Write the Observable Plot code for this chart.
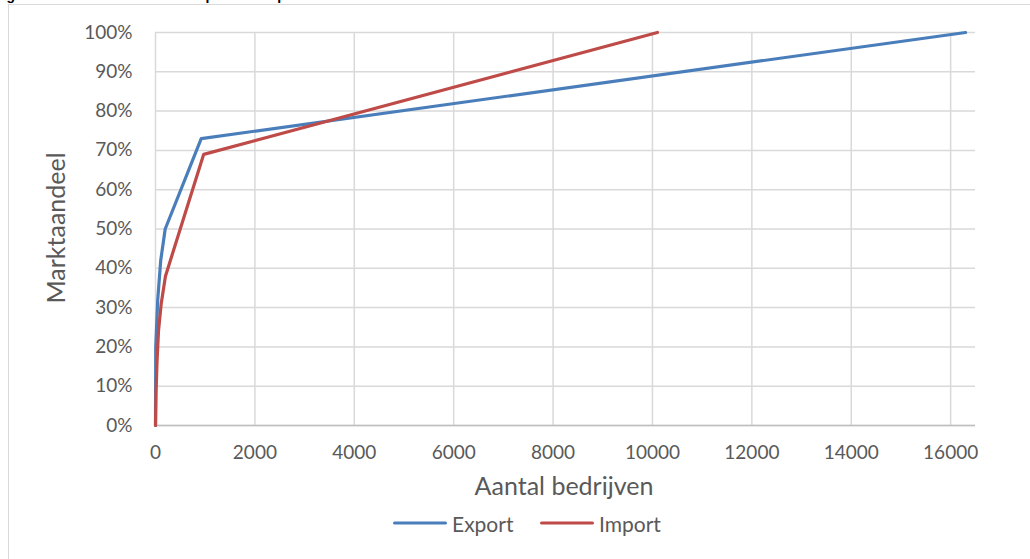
<!DOCTYPE html>
<html>
<head>
<meta charset="utf-8">
<script src="https://cdn.jsdelivr.net/npm/d3@7"></script>
<script src="https://cdn.jsdelivr.net/npm/@observablehq/plot@0.6"></script>
<style>
  html, body { margin: 0; padding: 0; background: #fff; overflow: hidden; }
  #wrap { position: relative; width: 1030px; height: 559px; font-family: Lato, "Open Sans", sans-serif; color: #595959; }
  #title { position: absolute; left: -6px; top: -13px; font: bold 14px "Liberation Sans", Arial, sans-serif; color: #000; white-space: nowrap; }
  #frame { position: absolute; left: 8px; top: 4px; width: 1040px; height: 570px; border: 1px solid #d9d9d9; box-sizing: border-box; }
  #chart { position: absolute; left: 0; top: 0; }
  .axt { position: absolute; font-size: 25px; color: #595959; white-space: nowrap; }
  #xt { left: 564px; top: 485px; transform: translate(-50%, -50%); }
  #yt { left: 55px; top: 228px; transform: translate(-50%, -50%) rotate(-90deg); }
  #legend { position: absolute; top: 523px; left: 0; width: 1030px; }
  .li { position: absolute; top: 0; display: flex; align-items: center; transform: translateY(-50%); font-size: 21px; }
  .sw { width: 54px; height: 3.5px; border-radius: 2px; margin-right: 5px; }
</style>
</head>
<body>
<div id="wrap">
  <div id="title">Figuur 3.1 Marktconcentratie import- en exportmarkt</div>
  <div id="frame"></div>
  <div id="chart"></div>
  <div class="axt" id="xt">Aantal bedrijven</div>
  <div class="axt" id="yt">Marktaandeel</div>
  <div id="legend"></div>
</div>
<script>
const seriesNames = ["Export", "Import"];
const seriesColors = ["#4a7ebb", "#be4b48"];
const exportX = [0, 5, 45, 105, 195, 920, 16300];
const exportY = [0, 0.20, 0.32, 0.42, 0.50, 0.73, 1.00];
const importX = [0, 10, 30, 60, 115, 200, 970, 10100];
const importY = [0, 0.08, 0.16, 0.24, 0.31, 0.38, 0.69, 1.00];
const xTicks = [0, 2000, 4000, 6000, 8000, 10000, 12000, 14000, 16000];
const yTicks = [0, 0.1, 0.2, 0.3, 0.4, 0.5, 0.6, 0.7, 0.8, 0.9, 1.0];

const data = [
  ...exportX.map((x, i) => ({series: "Export", x, y: exportY[i]})),
  ...importX.map((x, i) => ({series: "Import", x, y: importY[i]}))
];

const plot = Plot.plot({
  width: 1030,
  height: 470,
  marginLeft: 155,
  marginRight: 55,
  marginTop: 32,
  marginBottom: 45,
  style: {fontFamily: "Lato, 'Open Sans', sans-serif", fontSize: "19px", color: "#595959", background: "transparent", overflow: "visible"},
  x: {domain: [0, 16500], ticks: xTicks},
  y: {domain: [0, 1], ticks: yTicks},
  color: {domain: seriesNames, range: seriesColors},
  marks: [
    Plot.ruleY(yTicks, {stroke: "#d9d9d9", strokeWidth: 1.5, strokeOpacity: 1}),
    Plot.ruleX(xTicks, {stroke: "#d9d9d9", strokeWidth: 1.5, strokeOpacity: 1}),
    Plot.ruleY([0], {stroke: "#bfbfbf", strokeWidth: 1.5}),
    Plot.axisX({ticks: xTicks, tickSize: 0, tickPadding: 20, label: null, tickFormat: d3.format("d"), fill: "#595959"}),
    Plot.axisY({ticks: yTicks, tickSize: 0, tickPadding: 23, label: null, tickFormat: d3.format(".0%"), fill: "#595959"}),
    Plot.line(data, {x: "x", y: "y", z: "series", stroke: "series", strokeWidth: 3.2, strokeLinejoin: "round", strokeLinecap: "round"})
  ]
});
document.getElementById("chart").appendChild(plot);

const legend = document.getElementById("legend");
const legendPos = [393, 540];
seriesNames.forEach((name, i) => {
  const item = document.createElement("div");
  item.className = "li";
  item.style.left = legendPos[i] + "px";
  item.innerHTML = `<div class="sw" style="background:${seriesColors[i]}"></div><span>${name}</span>`;
  legend.appendChild(item);
});
</script>
</body>
</html>
